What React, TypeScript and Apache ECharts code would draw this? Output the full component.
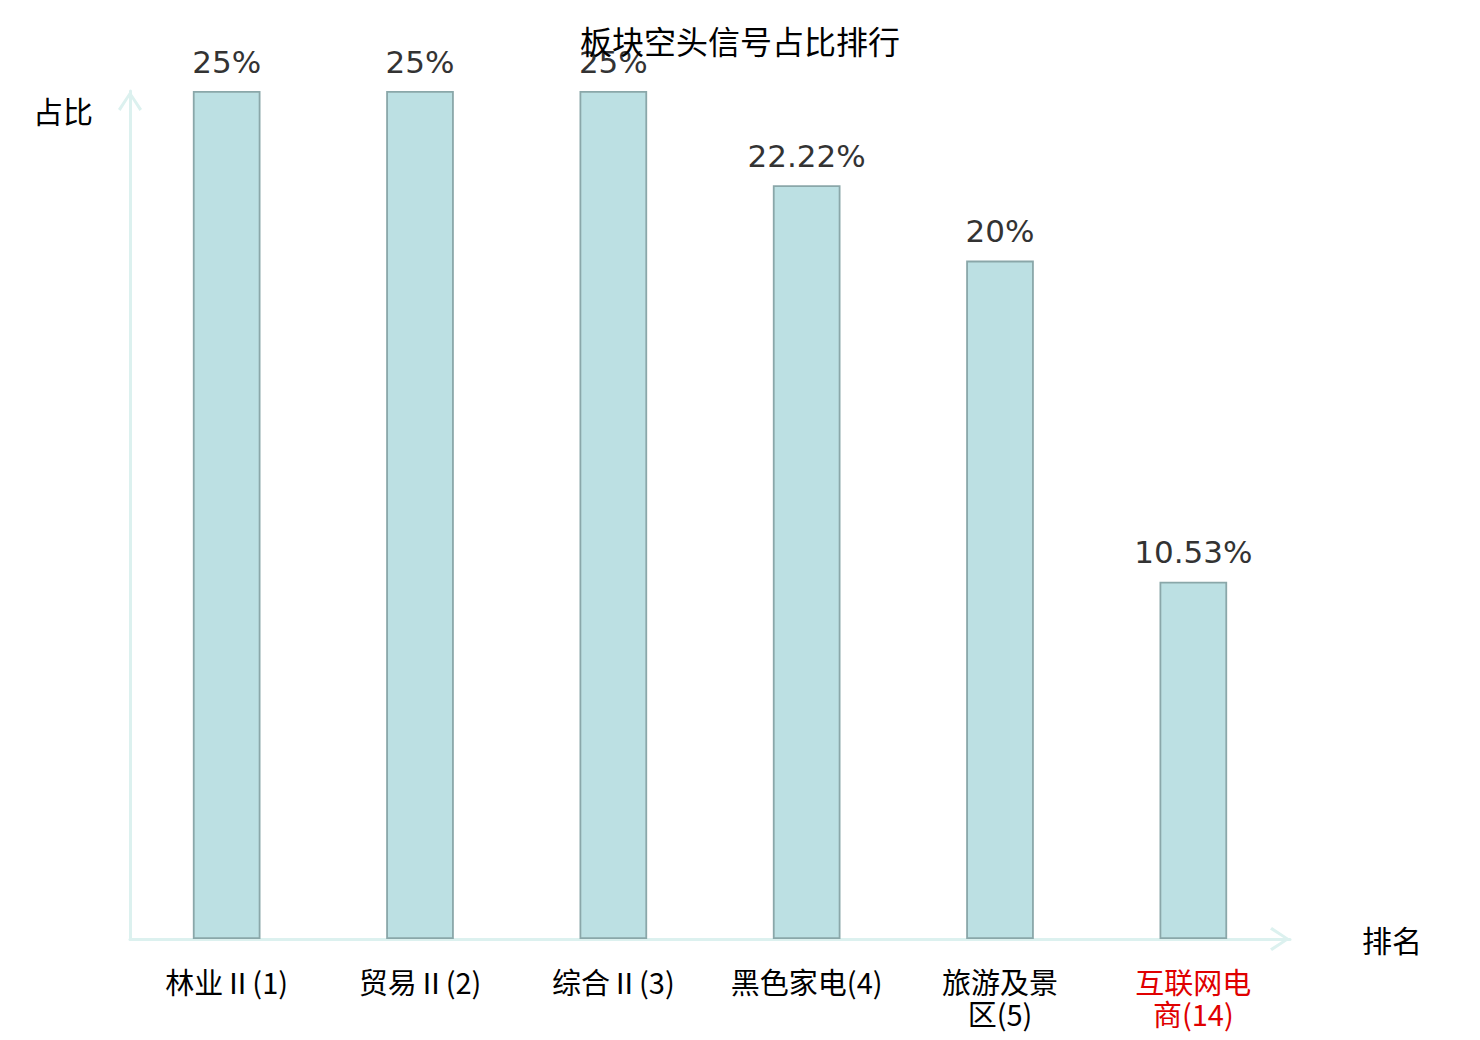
import React, { useEffect, useRef } from "react";
import * as echarts from "echarts";

const title = "板块空头信号占比排行";
const categories = ["林业Ⅱ(1)", "贸易Ⅱ(2)", "综合Ⅱ(3)", "黑色家电(4)", "旅游及景区(5)", "互联网电商(14)"];
const values = [25, 25, 25, 22.22, 20, 10.53];
const highlightIndex = [5];
const xName = "排名";
const yName = "占比";

const chevron = "path://M0,18 L12,0 L24,18 L21.5,20 L12,5 L2.5,20 Z";

function wrapName(v: string): string {
  const k = v.indexOf("(");
  const name = k >= 0 ? v.slice(0, k) : v;
  const rest = k >= 0 ? v.slice(k) : "";
  const parts: string[] = [];
  for (let i = 0; i < name.length; i += 4) parts.push(name.slice(i, i + 4));
  return parts.join("\n") + rest;
}

export default function App() {
  const ref = useRef<HTMLDivElement>(null);
  useEffect(() => {
    if (!ref.current) return;
    const chart = echarts.init(ref.current, null, { renderer: "svg" });
    chart.setOption({
      animation: false,
      title: {
        text: title,
        left: "center",
        top: 11,
        textStyle: { fontSize: 32, fontWeight: "normal", color: "#000", fontFamily: "Noto Sans CJK SC" },
      },
      grid: { left: 122, right: 182, top: 83, bottom: 93, containLabel: false },
      xAxis: {
        type: "category",
        data: categories,
        name: xName,
        nameLocation: "end",
        nameGap: 72,
        nameTextStyle: { fontSize: 30, color: "#000", align: "left", verticalAlign: "middle", fontFamily: "Noto Sans CJK SC" },
        axisLine: {
          show: true,
          symbol: ["none", chevron],
          symbolSize: [24, 20],
          symbolOffset: [0, -10],
          lineStyle: { color: "#dcf1ef", width: 3 },
        },
        axisTick: { show: false },
        axisLabel: {
          interval: 0,
          margin: 26,
          fontSize: 29,
          lineHeight: 32,
          fontFamily: "Noto Sans CJK SC",
          formatter: (v: string) => wrapName(v),
          color: (_v: string, i: number) => (highlightIndex.includes(i) ? "#e00000" : "#000"),
        },
      },
      yAxis: {
        type: "value",
        min: 0,
        max: 25,
        name: yName,
        nameLocation: "end",
        nameGap: -4,
        nameTextStyle: {
          fontSize: 30,
          color: "#000",
          align: "right",
          verticalAlign: "top",
          fontFamily: "Noto Sans CJK SC",
          padding: [0, 37, 0, 0],
        },
        axisLine: {
          show: true,
          symbol: ["none", chevron],
          symbolSize: [24, 20],
          symbolOffset: [0, -10],
          lineStyle: { color: "#dcf1ef", width: 3 },
        },
        axisTick: { show: false },
        axisLabel: { show: false },
        splitLine: { show: false },
      },
      series: [
        {
          type: "bar",
          data: values,
          barWidth: "35%",
          itemStyle: { color: "#bce0e3", borderColor: "#8aa7a9", borderWidth: 1.8 },
          label: {
            show: true,
            position: "top",
            distance: 14,
            fontSize: 31,
            fontFamily: "DejaVu Sans",
            color: "#333",
            formatter: (p: any) => `${p.value}%`,
          },
        },
      ],
    });
    return () => chart.dispose();
  }, []);
  return <div ref={ref} style={{ width: 1464, height: 1024 }} />;
}
